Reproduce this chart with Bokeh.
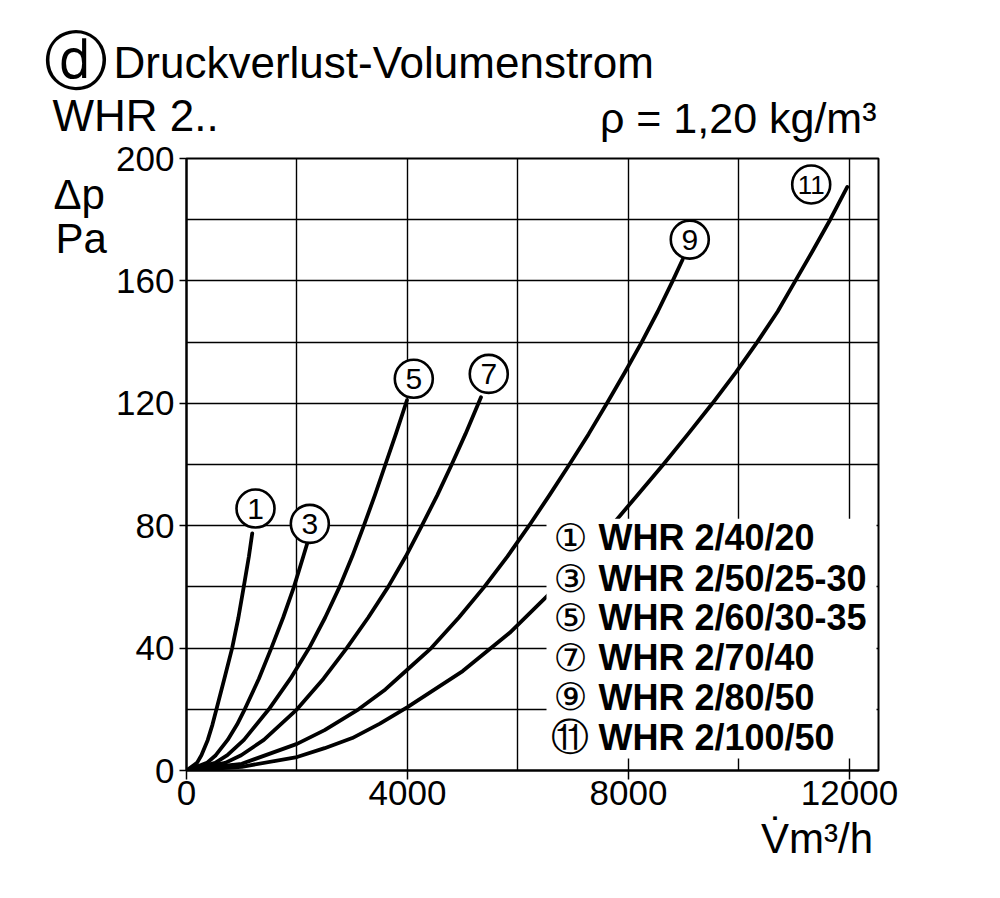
from bokeh.plotting import figure
from bokeh.models import Range1d, FixedTicker, BoxAnnotation, Label, LabelSet, ColumnDataSource
from bokeh.core.properties import value
from bokeh.embed import file_html
from bokeh.resources import INLINE

# ---- data (V in m3/h, dp in Pa) ----
v1 = [0, 190, 270, 385, 470, 542, 685, 826, 940, 1036, 1130, 1190]
p1 = [0, 2.5, 5, 10, 15, 20, 30, 40, 50, 60, 70, 77.5]

v3 = [0, 370, 530, 745, 915, 1054, 1310, 1535, 1750, 1945, 2115, 2190]
p3 = [0, 2.5, 5, 10, 15, 20, 30, 40, 50, 60, 70, 74.5]

v5 = [0, 520, 740, 1040, 1490, 1880, 2220, 2510, 2770, 3000, 3210, 3410, 3600, 3790, 3990]
p5 = [0, 2.5, 5, 10, 20, 30, 40, 50, 60, 70, 80, 90, 100, 110, 121]

v7 = [0, 700, 990, 1400, 2000, 2480, 2900, 3290, 3650, 3970, 4260, 4540, 4800, 5050, 5330]
p7 = [0, 2.5, 5, 10, 20, 30, 40, 50, 60, 70, 80, 90, 100, 110, 122]

v9 = [0, 1000, 2000, 2500, 3114, 3600, 4000, 4430, 4930, 5390, 5810, 6200, 6570, 6930,
      7280, 7610, 7930, 8240, 8530, 8800, 8980]
p9 = [0, 2.2, 8.7, 13.2, 20, 26.5, 33, 40, 50, 60, 70, 80, 90, 100,
      110, 120, 130, 140, 150, 160, 167]

v11 = [0, 1000, 2000, 2500, 3000, 3500, 4000, 5000, 5850, 6600, 7200, 7800, 8210, 8630, 9080, 9520,
       9940, 10330, 10700, 11020, 11340, 11650, 11960]
p11 = [0, 1.2, 4.4, 7.3, 10.6, 15.3, 20.7, 32.5, 45, 58.3, 70, 82.3, 91, 100, 110, 120,
       130, 140, 150, 160, 170, 180, 190.7]

curve_numbers = ["1", "3", "5", "7", "9", "11"]
legend_marks = ["\u2460", "\u2462", "\u2464", "\u2466", "\u2468", "\u246a"]
legend_names = ["WHR 2/40/20", "WHR 2/50/25-30", "WHR 2/60/30-35",
                "WHR 2/70/40", "WHR 2/80/50", "WHR 2/100/50"]

x_ticks = [0, 4000, 8000, 12000]
y_ticks = [0, 40, 80, 120, 160, 200]
x_grid = [0, 2000, 4000, 6000, 8000, 10000, 12000]
y_grid = [0, 20, 40, 60, 80, 100, 120, 140, 160, 180, 200]

# ---- annotation anchor positions (data units) ----
curve_label_x = [1249, 2232, 4114, 5471, 9109, 11307]
curve_label_y = [85.6, 80.6, 128.0, 129.6, 173.5, 191.5]
curve_label_fs = ["30px", "30px", "30px", "30px", "30px", "26px"]
legend_y = [76.1, 62.7, 50.0, 36.9, 23.9, 10.8]

FONT = "Liberation Sans"

p = figure(width=984, height=882, x_range=Range1d(0, 12525), y_range=Range1d(0, 200),
           output_backend="svg", toolbar_location=None,
           min_border_left=186, min_border_right=106, min_border_top=158, min_border_bottom=112)
p.title.visible = False
p.background_fill_color = "white"
p.border_fill_color = "white"
p.outline_line_color = "black"
p.outline_line_width = 2
p.outline_line_alpha = 1

for ax, ticks, tout in ((p.xaxis, x_ticks, 9), (p.yaxis, y_ticks, 7)):
    ax.ticker = FixedTicker(ticks=ticks, minor_ticks=[])
    ax.major_tick_out = tout
    ax.major_tick_in = 0
    ax.minor_tick_line_color = None
    ax.major_tick_line_width = 1.5
    ax.major_tick_line_color = "black"
    ax.axis_line_color = "black"
    ax.axis_line_width = 2
    ax.major_label_text_font = FONT
    ax.major_label_text_font_size = "35px"
    ax.major_label_text_color = "black"
p.xaxis.major_label_standoff = 1
p.yaxis.major_label_standoff = 5

p.xgrid.ticker = FixedTicker(ticks=x_grid)
p.ygrid.ticker = FixedTicker(ticks=y_grid)
for g in (p.xgrid, p.ygrid):
    g.grid_line_color = "black"
    g.grid_line_width = 1.4
    g.grid_line_alpha = 1

for vv, pp in ((v1, p1), (v3, p3), (v5, p5), (v7, p7), (v9, p9), (v11, p11)):
    p.line(vv, pp, line_width=3.8, line_color="black", line_join="round", line_cap="round")

p.scatter(curve_label_x, curve_label_y, marker="circle", size=38,
          fill_color="white", line_color="black", line_width=2.6)
lbl_src = ColumnDataSource(dict(x=curve_label_x, y=curve_label_y, t=curve_numbers, fs=curve_label_fs))
p.text(x="x", y="y", text="t", source=lbl_src, text_align="center", text_baseline="middle",
       text_font=value(FONT), text_font_size="fs", text_color="black")

# legend area (white panel hiding grid and curve 11)
p.add_layout(BoxAnnotation(left=6516, right=12489, bottom=3.9, top=82.3,
                           fill_color="white", fill_alpha=1, line_color=None))

leg_src = ColumnDataSource(dict(y=legend_y, m=legend_marks, n=legend_names,
                                xm=[6950] * 6, xn=[7457] * 6))
p.add_layout(LabelSet(x="xm", y="y", text="m", source=leg_src, text_align="center",
                      text_baseline="middle", text_font=value("DejaVu Sans"),
                      text_font_size=value("38px"), text_color="black"))
p.add_layout(LabelSet(x="xn", y="y", text="n", source=leg_src, text_align="left",
                      text_baseline="middle", text_font=value(FONT), text_font_style="bold",
                      text_font_size=value("36px"), text_color="black"))

def lab(side, x, y, text, size, align="left", font=FONT):
    p.add_layout(Label(x=x, y=y, text=text, text_font=font, text_font_size=size,
                       text_align=align, text_baseline="middle", text_color="black"), side)

# texts outside the frame live in the side panels (not clipped there)
lab("above", -1321, 231.4, "Druckverlust-Volumenstrom", "44px")
lab("above", -2425, 214.0, "WHR 2..", "44px")
lab("above", 12489, 213.1, "\u03c1 = 1,20 kg/m\u00b3", "43px", align="right")
lab("right", -1991, 231.7, "\u24d3", "64px", align="center", font="DejaVu Sans")
lab("left", -2407, 188.2, "\u0394p", "42px")
lab("left", -2371, 173.9, "Pa", "42px")
lab("below", 10400, -22.1, "V\u0307m\u00b3/h", "42px")

open("out.html", "w").write(file_html(p, INLINE))
